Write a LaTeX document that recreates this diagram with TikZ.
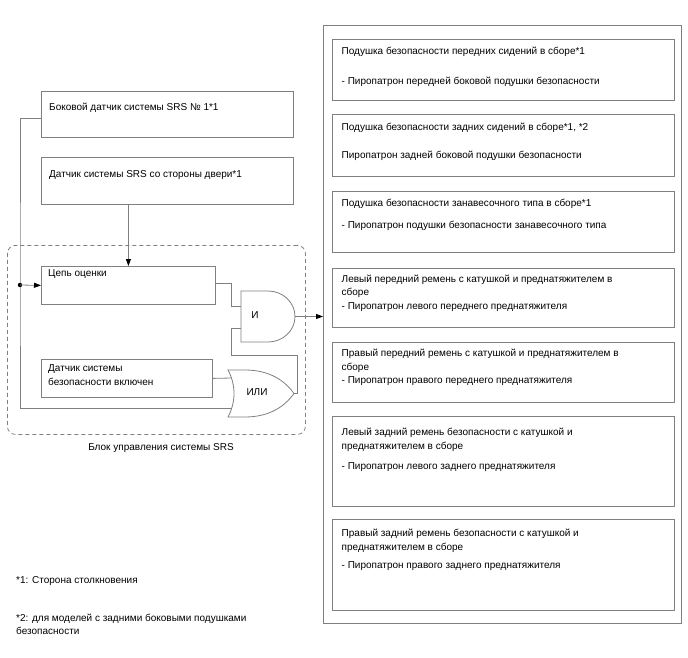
\documentclass[tikz,border=0pt]{standalone}
\usepackage{fontspec}
\setmainfont{Liberation Sans}
\usetikzlibrary{arrows.meta,positioning,calc}
\definecolor{linegray}{HTML}{808080}

\begin{document}
\begin{tikzpicture}[x=1pt,y=-1pt,
    font=\fontsize{10}{13.5}\selectfont,
    box/.style={draw=linegray, line width=0.8pt, anchor=north west, inner sep=0pt},
    txt/.style={anchor=north west, align=left, inner sep=0pt},
    wire/.style={draw=linegray, line width=0.8pt},
    arr/.style={wire, -{Triangle[length=7pt,width=5pt,black]}}]
    \useasboundingbox (0,0) rectangle (688,658);

    % Sensors
    \node[box, minimum width=252pt, minimum height=46pt] (side) at (41,91) {};
    \node[txt] (sidet) at (49,103) {Боковой датчик системы SRS № 1*1};
    \node[box, minimum width=252pt, minimum height=46pt] (door) at (41,157.5) {};
    \node[txt] (doort) at (49,170.4) {Датчик системы SRS со стороны двери*1};

    % SRS control unit
    \node[box, dashed, dash pattern=on 4pt off 3pt, rounded corners=8pt,
          minimum width=298pt, minimum height=189pt] (ecu) at (7,245) {};
    \node[anchor=base, inner sep=0pt] (ecut) at (161,450) {Блок управления системы SRS};
    \node[box, minimum width=174pt, minimum height=38pt] (eval) at (41,266) {};
    \node[txt] (evalt) at (48,269.4) {Цепь оценки};
    \node[box, minimum width=171pt, minimum height=38pt] (sensor) at (41,359) {};
    \node[txt] (sensort) at (48,364.7) {Датчик системы\\безопасности включен};

    % AND gate
    \coordinate (andin1) at (241,306);
    \coordinate (andin2) at (241,328);
    \coordinate (andout) at (295,316.5);
    \draw[wire] (241,291) -- (268,291) arc[start angle=-90, end angle=90, x radius=27, y radius=25.5]
        -- (241,342) -- cycle;
    \node (andt) at (255,315) {И};

    % OR gate
    \coordinate (orin1) at (231.5,378);
    \coordinate (orin2) at (231.5,408);
    \coordinate (orout) at (294,393.5);
    \draw[wire] (228,370) .. controls (236,385) and (236,402) .. (228,417) -- (245,417)
        .. controls (270,417) and (285,406) .. (294,393.5)
        .. controls (285,381) and (270,370) .. (245,370) -- cycle;
    \node (ort) at (257,392) {ИЛИ};

    % Connections
    \coordinate (junc) at (20,285);
    \coordinate (corner) at (20,408);
    \draw[wire] ([yshift=-4pt]side.west) -| (junc) -- (corner) -- (orin2);
    \fill (junc) circle (2.2pt);
    \draw[arr] (junc) -- (eval.west);
    \draw[arr] (eval.north |- door.south) -- (eval.north);
    \draw[wire] ([yshift=2pt]eval.east) -- ++(16,0) |- (andin1);
    \draw[wire] (orout) -- ++(3,0) |- (231,355) |- (andin2);
    \draw[wire] (sensor.east) -- (orin1);

    % Airbags and pretensioners
    \node[box, minimum width=358pt, minimum height=598pt] (bags) at (323,25) {};
    \draw[arr] (andout) -- (andout -| bags.west);

    \node[box, minimum width=342pt, minimum height=61pt] (bag1) at (332,39.5) {};
    \node[txt] (bag1t) at (341.5,47) {Подушка безопасности передних сидений в сборе*1\\[16.5pt]
        - Пиропатрон передней боковой подушки безопасности};
    \node[box, minimum width=342pt, minimum height=61pt] (bag2) at (332,114.5) {};
    \node[txt] (bag2t) at (341.5,122.4) {Подушка безопасности задних сидений в сборе*1, *2\\[14.5pt]
        Пиропатрон задней боковой подушки безопасности};
    \node[box, minimum width=342pt, minimum height=61pt] (bag3) at (332,190.5) {};
    \node[txt] (bag3t) at (341.5,199.4) {Подушка безопасности занавесочного типа в сборе*1\\[8.5pt]
        - Пиропатрон подушки безопасности занавесочного типа};
    \node[box, minimum width=342pt, minimum height=59pt] (belt1) at (332,268) {};
    \node[txt] (belt1t) at (341.5,274.7) {Левый передний ремень с катушкой и преднатяжителем в\\сборе\\
        - Пиропатрон левого переднего преднатяжителя};
    \node[box, minimum width=342pt, minimum height=60pt] (belt2) at (332,341.5) {};
    \node[txt] (belt2t) at (341.5,349) {Правый передний ремень с катушкой и преднатяжителем в\\сборе\\
        - Пиропатрон правого переднего преднатяжителя};
    \node[box, minimum width=342pt, minimum height=90pt] (belt3) at (332,416) {};
    \node[txt] (belt3t) at (341.5,428) {Левый задний ремень безопасности с катушкой и\\преднатяжителем в сборе\\[6.5pt]
        - Пиропатрон левого заднего преднатяжителя};
    \node[box, minimum width=342pt, minimum height=91pt] (belt4) at (332,519) {};
    \node[txt] (belt4t) at (341.5,529) {Правый задний ремень безопасности с катушкой и\\преднатяжителем в сборе\\[5pt]
        - Пиропатрон правого заднего преднатяжителя};

    % Notes
    \node[txt] (note1) at (16,576.4) {*1: Сторона столкновения};
    \node[txt] (note2) at (16,613.4) {*2: для моделей с задними боковыми подушками\\безопасности};
\end{tikzpicture}
\end{document}
